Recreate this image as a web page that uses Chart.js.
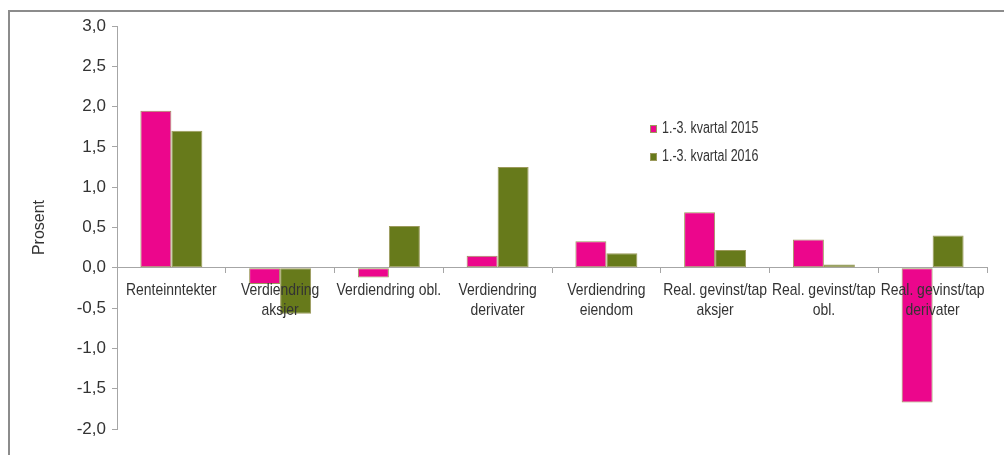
<!DOCTYPE html>
<html>
<head>
<meta charset="utf-8">
<script src="https://cdn.jsdelivr.net/npm/chart.js@4/dist/chart.umd.min.js"></script>
<style>
  html, body { margin: 0; padding: 0; background: #fff; }
  #wrap { position: relative; width: 1004px; height: 455px; overflow: hidden; }
  #frame {
    position: absolute; left: 8px; top: 10px; width: 1100px; height: 600px;
    border: 2px solid #8c8c8c; box-sizing: border-box;
  }
  #c { position: absolute; left: 0; top: 0; }
</style>
</head>
<body>
<div id="wrap">
  <div id="frame"></div>
  <canvas id="c" width="1004" height="455"></canvas>
</div>
<script>
const categories = [
  "Renteinntekter",
  ["Verdiendring", "aksjer"],
  "Verdiendring obl.",
  ["Verdiendring", "derivater"],
  ["Verdiendring", "eiendom"],
  ["Real. gevinst/tap", "aksjer"],
  ["Real. gevinst/tap", "obl."],
  ["Real. gevinst/tap", "derivater"],
];
const seriesNames = ["1.-3. kvartal 2015", "1.-3. kvartal 2016"];
const values2015 = [1.95, -0.20, -0.12, 0.15, 0.33, 0.69, 0.35, -1.67];
const values2016 = [1.70, -0.57, 0.52, 1.25, 0.18, 0.22, 0.04, 0.40];
const yTicks = [-2, -1.5, -1, -0.5, 0, 0.5, 1, 1.5, 2, 2.5, 3];

const FONT = "'Liberation Sans', Arial, sans-serif";
const TXT = "#333333";
const AXIS = "#a6a6a6";

// no narrow face installed, so narrow text is squeezed horizontally
function narrowText(ctx, text, x, y, squeeze) {
  ctx.save();
  ctx.translate(x, y);
  ctx.scale(squeeze, 1);
  ctx.fillText(text, 0, 0);
  ctx.restore();
}

// category labels below the zero line, drawn over the bars
const categoryLabels = {
  id: "categoryLabels",
  afterDatasetsDraw(chart) {
    const ctx = chart.ctx;
    const xs = chart.scales.x;
    const base = chart.scales.y.getPixelForValue(0);
    ctx.save();
    ctx.font = "17px " + FONT;
    ctx.fillStyle = TXT;
    ctx.textAlign = "center";
    ctx.textBaseline = "middle";
    chart.data.labels.forEach((lab, i) => {
      const lines = Array.isArray(lab) ? lab : [lab];
      const x = xs.getPixelForTick(i);
      lines.forEach((ln, j) => narrowText(ctx, ln, x, base + 23 + j * 20, 0.82));
    });
    ctx.restore();
  },
};

// legend box inside the plot
const boxLegend = {
  id: "boxLegend",
  afterDraw(chart) {
    const ctx = chart.ctx;
    ctx.save();
    ctx.font = "16px " + FONT;
    ctx.textBaseline = "middle";
    ctx.textAlign = "left";
    chart.data.datasets.forEach((ds, i) => {
      const y = 129 + i * 28;
      ctx.fillStyle = ds.backgroundColor;
      ctx.fillRect(650, y - 4, 7, 8);
      ctx.strokeStyle = ds.borderColor;
      ctx.lineWidth = 1;
      ctx.strokeRect(650.5, y - 3.5, 6, 7);
      ctx.fillStyle = TXT;
      narrowText(ctx, ds.label, 662, y, 0.78);
    });
    ctx.restore();
  },
};

new Chart(document.getElementById("c"), {
  type: "bar",
  data: {
    labels: categories,
    datasets: [
      {
        label: seriesNames[0],
        data: values2015,
        backgroundColor: "#ec068c",
        borderColor: "#9c9a5c",
        borderWidth: 1,
        borderSkipped: false,
      },
      {
        label: seriesNames[1],
        data: values2016,
        backgroundColor: "#677a1b",
        borderColor: "#9c9a5c",
        borderWidth: 1,
        borderSkipped: false,
      },
    ],
  },
  options: {
    responsive: false,
    animation: false,
    events: [],
    layout: { padding: { left: 24, right: 17, top: 26, bottom: 26 } },
    datasets: { bar: { categoryPercentage: 0.57, barPercentage: 1.0 } },
    plugins: { legend: { display: false }, tooltip: { enabled: false } },
    scales: {
      x: {
        position: { y: 0 },
        offset: true,
        grid: { drawOnChartArea: false, offset: true, tickLength: 5, color: AXIS },
        border: { color: AXIS, width: 1 },
        ticks: { display: false, autoSkip: false },
      },
      y: {
        min: -2,
        max: 3,
        afterBuildTicks: (scale) => { scale.ticks = yTicks.map((v) => ({ value: v })); },
        afterFit: (scale) => { scale.width = 117 - 24; },
        grid: { drawOnChartArea: false, tickLength: 5, color: AXIS },
        border: { color: AXIS, width: 1 },
        ticks: {
          color: TXT,
          padding: 6,
          font: { family: FONT, size: 17 },
          callback: (v) => Number(v).toFixed(1).replace(".", ","),
        },
        title: {
          display: true,
          text: "Prosent",
          color: TXT,
          font: { family: FONT, size: 16 },
          padding: { top: 6, bottom: 0 },
        },
      },
    },
  },
  plugins: [categoryLabels, boxLegend],
});
</script>
</body>
</html>
